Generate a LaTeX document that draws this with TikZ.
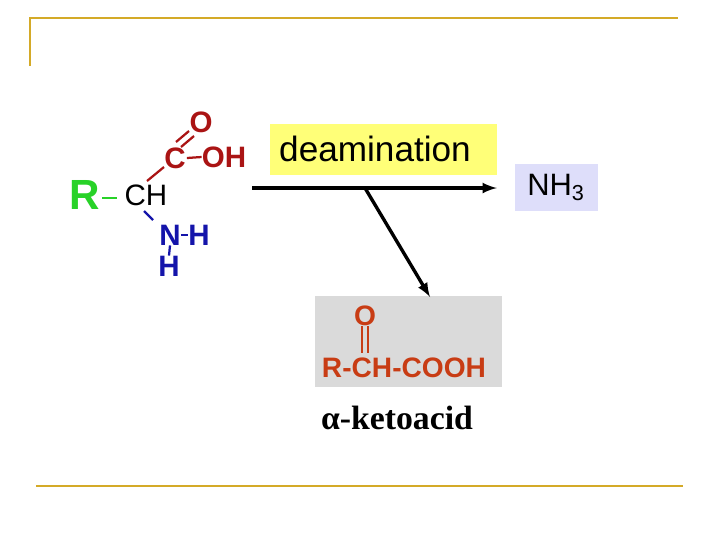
\documentclass[tikz,border=0pt]{standalone}
\usepackage{fontspec}
\setmainfont{Liberation Sans}
\newfontfamily\timesfont{Liberation Serif}
\definecolor{rulegold}{RGB}{212,170,40}
\definecolor{hiyellow}{RGB}{255,255,120}
\definecolor{lavender}{RGB}{222,222,250}
\definecolor{boxgray}{RGB}{218,218,218}
\definecolor{acidred}{RGB}{200,60,20}
\definecolor{cred}{RGB}{170,20,20}
\definecolor{rgreen}{RGB}{40,210,40}
\definecolor{nblue}{RGB}{20,20,170}
\begin{document}
\begin{tikzpicture}[x=0.025cm,y=-0.025cm,
  atom/.style={inner sep=0pt,font=\fontsize{21}{21}\selectfont\bfseries},
  bond/.style={line width=1.6pt}]
\useasboundingbox (0,0) rectangle (720,540);
% frame rules
\draw[rulegold,line width=1.5pt] (30,66) -- (30,18) -- (678,18);
\draw[rulegold,line width=1.5pt] (36,486) -- (683,486);
% amino acid
\node[atom,rgreen,font=\fontsize{30}{30}\bfseries] (r) at (85,195) {R};
\node[atom,font=\fontsize{21}{21}\selectfont] (ch) at (146,195) {CH};
\node[atom,cred] (c) at (175,158) {C};
\node[atom,cred] (oh) at (224,157) {OH};
\node[atom,cred] (o) at (201,122) {O};
\node[atom,nblue] (n) at (170,235) {N};
\node[atom,nblue] (nh1) at (199,235) {H};
\node[atom,nblue] (nh2) at (169,266) {H};
\draw[bond,rgreen] (102,198) -- (117,198);
\draw[bond,cred] (147,181) -- (164,167);
\draw[bond,cred] (c.east) ++(1,0) -- (oh.west);
\draw[bond,cred] (176,142) -- (189,131);
\draw[bond,cred] (181,147) -- (194,136);
\draw[bond,nblue] (144,211) -- (153,220);
\draw[bond,nblue] (n.east) -- (nh1.west);
\draw[bond,nblue] (n.south) -- (nh2.north);
% reaction
\node[fill=hiyellow,minimum width=227*0.025cm,minimum height=51*0.025cm,
  inner sep=0pt,font=\fontsize{25}{25}\selectfont] (deam) at (383,149) {\hspace*{-0.4cm}deamination};
\node[fill=lavender,minimum width=83*0.025cm,minimum height=47*0.025cm,
  inner sep=0pt,font=\fontsize{22}{22}\selectfont] (nh3) at (556,187) {NH\textsubscript{3}};
\coordinate (start) at (252,188);
\coordinate (fork) at (365,188);
\draw[line width=2.4pt,-latex] (start) -- (deam.south east |- start);
\node[fill=boxgray,minimum width=187*0.025cm,minimum height=91*0.025cm,inner sep=0pt] (keto) at (408,341) {};
\draw[line width=2.4pt,-latex] (fork) -- (430,297);
\node[atom,acidred,font=\fontsize{20}{20}\bfseries] (ko) at (365,316) {O};
\node[atom,acidred,font=\fontsize{20}{20}\bfseries] (kform) at (404,368) {R-CH-COOH};
\draw[acidred,line width=1pt] (362,326) -- (362,353);
\draw[acidred,line width=1pt] (368,326) -- (368,353);
\node[font=\fontsize{24}{24}\timesfont\bfseries] (name) at (397,418) {α-ketoacid};
\end{tikzpicture}
\end{document}
